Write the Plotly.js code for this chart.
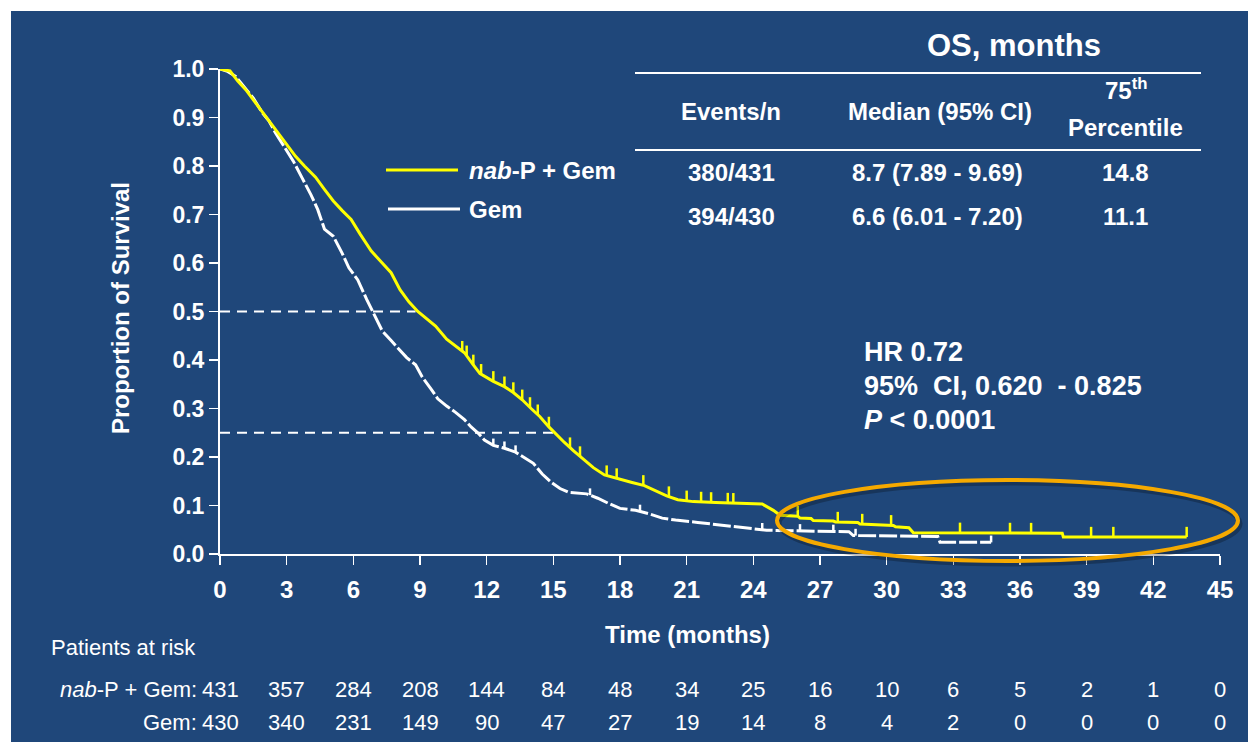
<!DOCTYPE html>
<html><head><meta charset="utf-8">
<script src="https://cdn.plot.ly/plotly-3.0.1.min.js"></script>
<style>
html,body{margin:0;padding:0;background:#ffffff;width:1248px;height:742px;overflow:hidden}
#chart{position:absolute;left:11px;top:11px;width:1237px;height:731px}
</style>
</head><body><div id="chart"></div>
<script>
// ---- data ----
const nabTime = [0,0.45,0.8,1.2,1.6,2.0,2.5,2.9,3.4,3.8,4.3,4.7,5.1,5.5,5.9,6.3,6.8,7.3,7.7,8.1,8.5,8.9,9.3,9.7,10.2,10.6,11.0,11.4,11.7,12.3,12.8,13.2,13.6,14.0,14.4,14.8,15.1,15.5,15.9,16.3,16.8,17.3,17.9,18.5,19.1,19.6,20.1,20.6,21.3,22.3,23.5,24.4,24.9,25.2,26.0,26.1,26.6,26.7,27.6,27.7,28.7,28.8,30.3,30.4,31.0,31.2,37.9,37.95,43.5];
const nabSurv = [1.0,0.996,0.975,0.955,0.93,0.905,0.875,0.85,0.82,0.80,0.777,0.752,0.728,0.708,0.69,0.66,0.625,0.60,0.58,0.545,0.52,0.50,0.485,0.47,0.443,0.428,0.415,0.39,0.372,0.356,0.345,0.333,0.318,0.30,0.283,0.262,0.248,0.23,0.213,0.197,0.178,0.163,0.155,0.148,0.141,0.13,0.12,0.112,0.108,0.106,0.104,0.103,0.09,0.08,0.078,0.074,0.073,0.069,0.068,0.066,0.065,0.062,0.059,0.056,0.054,0.044,0.043,0.035,0.035];
const nabCensor = [10.9,11.1,11.4,11.75,12.3,12.8,13.2,13.6,13.95,14.3,14.8,15.75,16.2,17.4,17.85,19.05,20.2,21.0,21.65,22.1,22.85,23.1,26.0,27.8,28.9,30.2,33.3,35.55,36.5,39.2,40.2,43.5];

const gemTime = [0,0.3,0.7,1.1,1.5,1.9,2.2,2.5,2.9,3.3,3.7,4.1,4.4,4.7,5.1,5.5,5.8,6.2,6.6,6.9,7.3,7.7,8.0,8.4,8.8,9.1,9.5,9.8,10.2,10.6,11.0,11.3,11.6,11.9,12.3,12.8,13.3,13.7,14.1,14.5,14.9,15.3,15.7,16.5,17.0,17.5,18.0,18.7,19.3,19.9,20.5,21.5,22.5,23.5,24.6,26.8,28.3,28.5,32.3,32.4,34.7];
const gemSurv = [1.0,0.996,0.985,0.963,0.94,0.91,0.893,0.868,0.84,0.81,0.775,0.74,0.71,0.67,0.655,0.62,0.59,0.565,0.525,0.496,0.46,0.44,0.425,0.405,0.39,0.365,0.34,0.32,0.305,0.292,0.277,0.262,0.25,0.235,0.224,0.218,0.21,0.198,0.187,0.165,0.148,0.135,0.127,0.124,0.115,0.104,0.094,0.09,0.083,0.074,0.07,0.065,0.06,0.054,0.049,0.047,0.046,0.038,0.036,0.024,0.024];
const gemCensor = [12.3,12.8,13.3,16.65,18.9,24.4,26.1,27.6,28.6,34.7];

const riskTimes = [0,3,6,9,12,15,18,21,24,27,30,33,36,39,42,45];
const nabRisk = [431,357,284,208,144,84,48,34,25,16,10,6,5,2,1,0];
const gemRisk = [430,340,231,149,90,47,27,19,14,8,4,2,0,0,0,0];

const seriesNames = ['<i>nab</i>-P + Gem','Gem'];
const riskLabels = ['<i>nab</i>-P + Gem:','Gem:'];
const tableTitle = 'OS, months';
const tableHeaders = ['Events/n','Median (95% CI)','75<sup>th</sup>','Percentile'];
const nabRow = ['380/431','8.7 (7.89 - 9.69)','14.8'];
const gemRow = ['394/430','6.6 (6.01 - 7.20)','11.1'];
const hrLines = ['HR 0.72','95%&nbsp; CI, 0.620&nbsp; - 0.825','<i>P</i> &lt; 0.0001'];
const refLevels = [0.5, 0.25];
const refEnds = [8.8, 15.0];

// ---- style ----
const BG = '#1F477A';
const YEL = '#FFFF00';
const WHITE = '#FFFFFF';
const ORANGE = '#F5A900';
const FF = 'Liberation Sans, Arial, Helvetica, sans-serif';
// page-pixel -> paper helpers (plot area spans page x 220..1220, y 69..554)
const PX = p => (p - 220) / 1000;
const PY = p => (554 - p) / 485;

function survAt(times, surv, t) {
  for (let i = 1; i < times.length; i++) {
    if (t <= times[i]) {
      const f = (t - times[i-1]) / (times[i] - times[i-1]);
      return surv[i-1] + f * (surv[i] - surv[i-1]);
    }
  }
  return surv[surv.length - 1];
}

const traces = [];
refLevels.forEach((lv, i) => {
  traces.push({x:[0, refEnds[i]], y:[lv, lv], mode:'lines', hoverinfo:'skip', showlegend:false,
    line:{color:WHITE, width:2, dash:'10px,7px'}, cliponaxis:false});
});
traces.push({x:gemTime, y:gemSurv, mode:'lines', name:'Gem', showlegend:false,
  line:{color:WHITE, width:3, dash:'18px,3px'}, cliponaxis:false});
traces.push({x:nabTime, y:nabSurv, mode:'lines', name:'nab-P + Gem', showlegend:false,
  line:{color:YEL, width:3}, cliponaxis:false});
traces.push({x:gemCensor, y:gemCensor.map(t => survAt(gemTime, gemSurv, t)), mode:'markers', showlegend:false,
  hoverinfo:'skip', marker:{size:1, color:'rgba(0,0,0,0)'}, cliponaxis:false,
  error_y:{type:'data', symmetric:false, array:gemCensor.map(() => 0.014), arrayminus:gemCensor.map(() => 0), width:0, thickness:2.5, color:WHITE}});
traces.push({x:nabCensor, y:nabCensor.map(t => survAt(nabTime, nabSurv, t)), mode:'markers', showlegend:false,
  hoverinfo:'skip', marker:{size:1, color:'rgba(0,0,0,0)'}, cliponaxis:false,
  error_y:{type:'data', symmetric:false, array:nabCensor.map(() => 0.021), arrayminus:nabCensor.map(() => 0), width:0, thickness:2.5, color:YEL}});

const ann = [];
function txt(text, x, y, size, opts) {
  ann.push(Object.assign({text:text, x:PX(x), y:PY(y), xref:'paper', yref:'paper', showarrow:false,
    xanchor:'center', yanchor:'middle', font:{family:FF, size:size, color:WHITE, weight:'bold'}}, opts || {}));
}
// axis titles
txt('Time (months)', 687, 634, 24);
txt('Proportion of Survival', 120, 308, 24, {textangle:-90});
// table
txt(tableTitle, 1014, 46, 31);
txt(tableHeaders[0], 731, 111, 24);
txt(tableHeaders[1], 940, 111, 24);
txt(tableHeaders[2], 1126, 89, 24);
txt(tableHeaders[3], 1125, 127, 24);
[nabRow, gemRow].forEach((row, r) => {
  const y = r === 0 ? 172 : 216;
  txt(row[0], 731, y, 24); txt(row[1], 937, y, 24); txt(row[2], 1125, y, 24);
});
// legend
txt(seriesNames[0], 467, 170, 24, {xanchor:'left'});
txt(seriesNames[1], 467, 209, 24, {xanchor:'left'});
// HR block
hrLines.forEach((t, i) => txt(t, 862, [352, 386, 420][i], 27, {xanchor:'left'}));
// patients at risk
const regular = {family:FF, size:22, color:WHITE, weight:'normal'};
txt('Patients at risk', 49, 647, 22, {xanchor:'left', font:regular});
txt(riskLabels[0], 199, 689, 22, {xanchor:'right', font:regular});
txt(riskLabels[1], 199, 722, 22, {xanchor:'right', font:regular});
[nabRisk, gemRisk].forEach((vals, r) => {
  vals.forEach((v, i) => {
    ann.push({text:String(v), x:riskTimes[i], y:PY(r === 0 ? 689 : 722), xref:'x', yref:'paper', showarrow:false,
      xanchor:'center', yanchor:'middle', font:regular});
  });
});

const shapes = [
  // table rules
  {type:'line', xref:'paper', yref:'paper', x0:PX(635), x1:PX(1201), y0:PY(73), y1:PY(73), line:{color:WHITE, width:2}},
  {type:'line', xref:'paper', yref:'paper', x0:PX(635), x1:PX(1201), y0:PY(150), y1:PY(150), line:{color:WHITE, width:2}},
  // legend samples
  {type:'line', xref:'paper', yref:'paper', x0:PX(386), x1:PX(458), y0:PY(170), y1:PY(170), line:{color:YEL, width:3}},
  {type:'line', xref:'paper', yref:'paper', x0:PX(388), x1:PX(460), y0:PY(209), y1:PY(209), line:{color:WHITE, width:3}},
  // highlight ellipse (shadow + ring)
  {type:'circle', xref:'paper', yref:'paper', x0:PX(779), x1:PX(1240), y0:PY(483), y1:PY(564), line:{color:'rgba(0,0,0,0.25)', width:5}},
  {type:'circle', xref:'paper', yref:'paper', x0:PX(777), x1:PX(1238), y0:PY(480), y1:PY(561), line:{color:ORANGE, width:4}}
];

const layout = {
  width:1237, height:731,
  margin:{l:209, r:28, t:58, b:188, pad:0},
  paper_bgcolor:BG, plot_bgcolor:BG,
  showlegend:false,
  xaxis:{range:[0,45], tickmode:'array', tickvals:riskTimes, ticktext:riskTimes.map(String),
    showgrid:false, zeroline:false, showline:true, linecolor:WHITE, linewidth:2,
    ticks:'outside', ticklen:9, tickwidth:1.5, tickcolor:WHITE, ticklabelstandoff:4,
    tickfont:{family:FF, size:24, color:WHITE, weight:'bold'}, fixedrange:true},
  yaxis:{range:[0,1], tickmode:'array', tickvals:[0,0.1,0.2,0.3,0.4,0.5,0.6,0.7,0.8,0.9,1.0],
    ticktext:['0.0','0.1','0.2','0.3','0.4','0.5','0.6','0.7','0.8','0.9','1.0'],
    showgrid:false, zeroline:false, showline:true, linecolor:WHITE, linewidth:2,
    ticks:'outside', ticklen:9, tickwidth:1.5, tickcolor:WHITE,
    tickfont:{family:FF, size:23, color:WHITE, weight:'bold'}, fixedrange:true},
  annotations:ann, shapes:shapes
};

Plotly.newPlot('chart', traces, layout, {displayModeBar:false, staticPlot:true});
</script>
</body></html>
